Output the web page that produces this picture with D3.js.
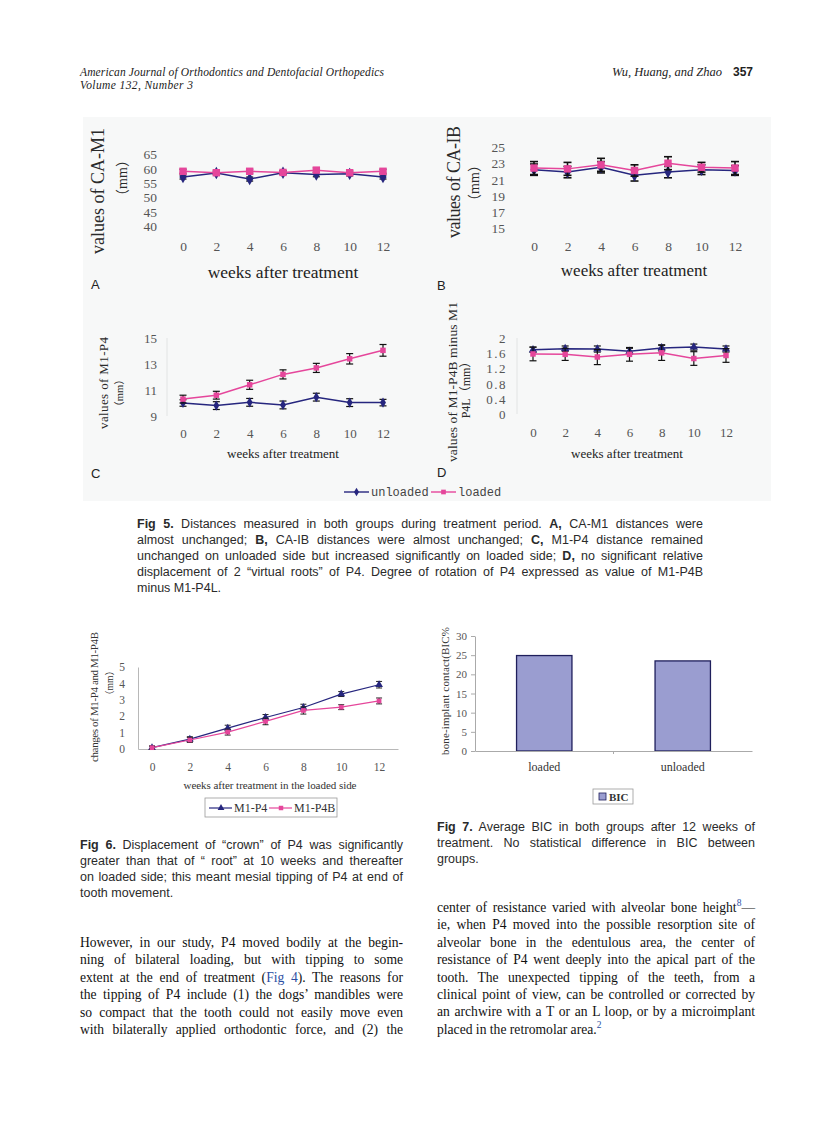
<!DOCTYPE html>
<html><head><meta charset="utf-8">
<script src="https://cdn.jsdelivr.net/npm/d3@7"></script>
<style>body{margin:0;background:#fff} svg{display:block}</style>
</head><body>
<svg id="page" width="838" height="1122"></svg>
<script>
// ---------------- DATA ----------------
const weeks = [0, 2, 4, 6, 8, 10, 12];
// Fig 5A  CA-M1 (mm)
const caM1Ticks = [40, 45, 50, 55, 60, 65];
const caM1Unloaded = [57.0, 58.4, 56.3, 58.5, 57.9, 58.1, 57.0];
const caM1Loaded   = [59.0, 58.5, 59.0, 58.6, 59.4, 58.5, 59.0];
const caM1ErrU = [0.7, 0.6, 0.7, 0.6, 0.8, 0.7, 0.7];
const caM1ErrL = [0.7, 0.6, 0.7, 0.6, 0.8, 0.7, 0.7];
// Fig 5B  CA-IB (mm)
const caIBTicks = [15, 17, 19, 21, 23, 25];
const caIBUnloaded = [22.2, 21.9, 22.5, 21.5, 21.9, 22.2, 22.1];
const caIBLoaded   = [22.4, 22.3, 22.8, 22.1, 23.0, 22.5, 22.4];
const caIBErrU = [0.7, 0.7, 0.7, 0.7, 0.7, 0.6, 0.6];
const caIBErrL = [0.8, 0.8, 0.8, 0.7, 0.8, 0.6, 0.8];
// Fig 5C  M1-P4 (mm)
const m1p4Ticks = [9, 11, 13, 15];
const m1p4Unloaded = [10.0, 9.8, 10.05, 9.85, 10.45, 10.03, 10.03];
const m1p4Loaded   = [10.3, 10.6, 11.4, 12.2, 12.7, 13.4, 14.05];
const m1p4ErrU = [0.25, 0.3, 0.3, 0.3, 0.3, 0.3, 0.25];
const m1p4ErrL = [0.3, 0.3, 0.35, 0.35, 0.35, 0.4, 0.45];
// Fig 5D  M1-P4B minus M1-P4L (mm)
const rotTicks = [0, 0.4, 0.8, 1.2, 1.6, 2];
const rotUnloaded = [1.69, 1.72, 1.71, 1.65, 1.74, 1.76, 1.71];
const rotLoaded   = [1.58, 1.57, 1.50, 1.57, 1.61, 1.46, 1.54];
const rotErrU = [0.07, 0.07, 0.08, 0.08, 0.08, 0.08, 0.08];
const rotErrL = [0.18, 0.16, 0.2, 0.18, 0.2, 0.18, 0.18];
// Fig 6  changes of M1-P4 and M1-P4B (mm)
const fig6Ticks = [0, 1, 2, 3, 4, 5];
const chgM1P4  = [0.08, 0.6, 1.27, 1.92, 2.53, 3.35, 3.92];
const chgM1P4B = [0.08, 0.55, 1.03, 1.68, 2.35, 2.55, 2.93];
const chgErrA = [0.1, 0.15, 0.18, 0.18, 0.2, 0.15, 0.2];
const chgErrB = [0.1, 0.15, 0.18, 0.2, 0.22, 0.15, 0.18];
// Fig 7  BIC %
const bicGroups = ["loaded", "unloaded"];
const bicValues = [24.9, 23.5];
const bicTicks = [0, 5, 10, 15, 20, 25, 30];

// ---------------- STYLE ----------------
const SERIF = "'Liberation Serif','Times New Roman',serif";
const SANS = "'Liberation Sans',Arial,sans-serif";
const CJKS = "'Liberation Serif','Noto Sans CJK SC',serif";
const MONO = "'Liberation Mono','Courier New',monospace";
const NAVY = "#26267e", PINK = "#e5469b";

const svg = d3.select("#page");
svg.append("rect").attr("width", 838).attr("height", 1122).attr("fill", "#fff");

function txt(x, y, s, o) {
  o = o || {};
  const t = svg.append("text").attr("x", x).attr("y", y).text(s)
    .attr("font-family", o.font || SERIF).attr("font-size", o.size || 12)
    .attr("fill", o.color || "#222");
  if (o.anchor) t.attr("text-anchor", o.anchor);
  if (o.italic) t.attr("font-style", "italic");
  if (o.bold) t.attr("font-weight", "bold");
  if (o.len) t.attr("textLength", o.len).attr("lengthAdjust", "spacing");
  return t;
}
function vtxt(cx, cy, s, o) {
  o = o || {};
  const t = svg.append("text").attr("transform", `translate(${cx},${cy}) rotate(-90)`)
    .attr("text-anchor", "middle").attr("dy", "0.35em").text(s)
    .attr("font-family", o.font || SERIF).attr("font-size", o.size || 12)
    .attr("fill", o.color || "#222");
  if (o.len) t.attr("textLength", o.len).attr("lengthAdjust", "spacing");
  return t;
}
function jline(x, y, width, parts, o) {
  const t = svg.append("text").attr("x", x).attr("y", y)
    .attr("font-family", o.font).attr("font-size", o.size).attr("fill", o.color);
  let full = "";
  parts.forEach(p => {
    const ts = t.append("tspan").text(p.t);
    full += p.t;
    if (p.b) ts.attr("font-weight", "bold");
    if (p.c) ts.attr("fill", p.c);
    if (p.sup) ts.attr("font-size", o.size * 0.7).attr("dy", -o.size * 0.42);
    if (p.dy) ts.attr("dy", p.dy);
  });
  if (o.justify) {
    const len = t.node().getComputedTextLength();
    const n = (full.match(/ /g) || []).length;
    if (n > 0) t.attr("word-spacing", ((width - len) / n).toFixed(3));
  }
  return t;
}

// ---------------- HEADER ----------------
txt(80, 76, "American Journal of Orthodontics and Dentofacial Orthopedics", {italic: 1, size: 11.5, len: 304, color: "#222"});
txt(80, 89, "Volume 132, Number 3", {italic: 1, size: 11.5, len: 113, color: "#222"});
txt(722, 76, "Wu, Huang, and Zhao", {italic: 1, size: 12.5, anchor: "end", color: "#222"});
txt(733, 76, "357", {font: SANS, bold: 1, size: 12, color: "#222"});

// ---------------- FIG 5 ----------------
svg.append("rect").attr("x", 83).attr("y", 117).attr("width", 688).attr("height", 384).attr("fill", "#f7f8f8");

function panel(cfg) {
  const g = svg.append("g");
  const x = d3.scaleLinear().domain([0, 12]).range(cfg.xr);
  const y = d3.scaleLinear().domain(cfg.yd).range(cfg.yr);
  if (cfg.axisLine) {
    g.append("line").attr("x1", cfg.axisLine).attr("x2", cfg.axisLine)
      .attr("y1", cfg.yr[1]).attr("y2", cfg.yr[0]).attr("stroke", "#e2e4e4");
  }
  const ya = g.append("g").attr("transform", `translate(${cfg.tickX},0)`)
    .call(d3.axisLeft(y).tickValues(cfg.ticks).tickSize(0).tickPadding(0).tickFormat(cfg.fmt || d3.format("d")));
  ya.select(".domain").remove();
  ya.selectAll("text").attr("font-family", SERIF).attr("font-size", cfg.tickFs)
    .attr("fill", "#555").attr("dy", "0.35em").attr("letter-spacing", cfg.ls || 0);
  const xa = g.append("g").attr("transform", `translate(0,${cfg.xLabelY})`)
    .call(d3.axisBottom(x).tickValues(weeks).tickSize(0).tickPadding(0));
  xa.select(".domain").remove();
  xa.selectAll("text").attr("y", 0).attr("dy", 0).attr("font-family", SERIF)
    .attr("font-size", cfg.tickFs).attr("fill", "#555");
  const line = d3.line().x(d => x(d.w)).y(d => y(d.v));
  const data = cfg.series.map(s => ({s, pts: weeks.map((w, i) => ({w, v: s.vals[i], e: s.err[i]}))}));
  data.forEach(({s, pts}) => {
    g.append("path").datum(pts).attr("d", line).attr("fill", "none")
      .attr("stroke", s.color).attr("stroke-width", s.lw || 1.5);
    const eb = g.append("g").attr("stroke", "#111").attr("stroke-width", cfg.ebw || 1.2);
    pts.forEach(d => {
      const y1 = y(d.v - d.e), y2 = y(d.v + d.e), cx = x(d.w), c = cfg.cap || 3.5;
      eb.append("line").attr("x1", cx).attr("x2", cx).attr("y1", y1).attr("y2", y2);
      eb.append("line").attr("x1", cx - c).attr("x2", cx + c).attr("y1", y1).attr("y2", y1);
      eb.append("line").attr("x1", cx - c).attr("x2", cx + c).attr("y1", y2).attr("y2", y2);
    });
    g.append("g").selectAll("path").data(pts).join("path")
      .attr("d", d3.symbol().type(s.sym).size(s.size))
      .attr("transform", d => `translate(${x(d.w)},${y(d.v)})`)
      .attr("fill", s.color);
  });
}

// A
panel({xr: [183, 383], yd: [40, 65], yr: [226, 154], ticks: caM1Ticks, tickX: 157, tickFs: 13.5, xLabelY: 251,
  cap: 3.5, series: [
    {vals: caM1Unloaded, err: caM1ErrU, color: NAVY, sym: d3.symbolDiamond, size: 45},
    {vals: caM1Loaded, err: caM1ErrL, color: PINK, sym: d3.symbolSquare, size: 55}]});
vtxt(98, 191, "values of CA-M1", {size: 18, len: 126, color: "#2a2a2a"});
vtxt(122, 178, "（mm）", {size: 14, font: CJKS, color: "#2a2a2a"});
txt(283, 278, "weeks after treatment", {size: 17.5, anchor: "middle", color: "#222"});
txt(91, 289, "A", {font: SANS, size: 13, color: "#222"});

// B
panel({xr: [534, 735], yd: [15, 25], yr: [228, 147], ticks: caIBTicks, tickX: 505, tickFs: 13.5, xLabelY: 251,
  cap: 4, ebw: 1.6, series: [
    {vals: caIBUnloaded, err: caIBErrU, color: NAVY, sym: d3.symbolDiamond, size: 45},
    {vals: caIBLoaded, err: caIBErrL, color: PINK, sym: d3.symbolSquare, size: 55}]});
vtxt(454, 182, "values of CA-IB", {size: 18, len: 112, color: "#2a2a2a"});
vtxt(474, 183, "（mm）", {size: 14, font: CJKS, color: "#2a2a2a"});
txt(634, 276, "weeks after treatment", {size: 17, anchor: "middle", color: "#222"});
txt(437, 290, "B", {font: SANS, size: 13, color: "#222"});

// C
panel({xr: [183, 383], yd: [9, 15], yr: [416, 338], ticks: m1p4Ticks, tickX: 157, tickFs: 13, xLabelY: 438,
  axisLine: 167, cap: 3.5, series: [
    {vals: m1p4Unloaded, err: m1p4ErrU, color: NAVY, sym: d3.symbolDiamond, size: 30},
    {vals: m1p4Loaded, err: m1p4ErrL, color: PINK, sym: d3.symbolSquare, size: 30}]});
vtxt(103, 383, "values of M1-P4", {size: 13, len: 92, color: "#2a2a2a"});
vtxt(119, 393, "（mm）", {size: 10.5, font: CJKS, color: "#2a2a2a"});
txt(283, 458, "weeks after treatment", {size: 13, anchor: "middle", color: "#222"});
txt(91, 478, "C", {font: SANS, size: 13, color: "#222"});

// D
panel({xr: [533, 726], yd: [0, 2], yr: [414, 338], ticks: rotTicks, tickX: 507, tickFs: 13, xLabelY: 437,
  axisLine: 517, ls: 1.5, fmt: d => String(d), cap: 3.5, series: [
    {vals: rotUnloaded, err: rotErrU, color: NAVY, sym: d3.symbolTriangle, size: 30},
    {vals: rotLoaded, err: rotErrL, color: PINK, sym: d3.symbolSquare, size: 30}]});
vtxt(452, 382, "values of M1-P4B minus M1", {size: 13.5, len: 160, color: "#2a2a2a"});
vtxt(466, 387, "P4L（mm）", {size: 12, font: CJKS, color: "#2a2a2a"});
txt(627, 458, "weeks after treatment", {size: 13, anchor: "middle", color: "#222"});
txt(437, 477, "D", {font: SANS, size: 13, color: "#222"});

// Fig 5 legend
(function () {
  const g = svg.append("g");
  const items = [{name: "unloaded", color: NAVY, sym: d3.symbolDiamond, x0: 344},
                 {name: "loaded", color: PINK, sym: d3.symbolSquare, x0: 431}];
  items.forEach(it => {
    g.append("line").attr("x1", it.x0).attr("x2", it.x0 + 25).attr("y1", 492).attr("y2", 492)
      .attr("stroke", it.color).attr("stroke-width", 1.4);
    g.append("path").attr("d", d3.symbol().type(it.sym).size(22)())
      .attr("transform", `translate(${it.x0 + 12.5},492)`).attr("fill", it.color);
    g.append("text").attr("x", it.x0 + 27).attr("y", 496).text(it.name)
      .attr("font-family", MONO).attr("font-size", 12).attr("fill", "#444");
  });
})();

// Fig 5 caption
const capStyle = {font: SANS, size: 12.5, color: "#2a2a2a", justify: true};
jline(137, 528, 566, [{t: "Fig 5.", b: 1}, {t: " Distances measured in both groups during treatment period. "}, {t: "A,", b: 1}, {t: " CA-M1 distances were"}], capStyle);
jline(137, 544, 566, [{t: "almost unchanged; "}, {t: "B,", b: 1}, {t: " CA-IB distances were almost unchanged; "}, {t: "C,", b: 1}, {t: " M1-P4 distance remained"}], capStyle);
jline(137, 560, 566, [{t: "unchanged on unloaded side but increased significantly on loaded side; "}, {t: "D,", b: 1}, {t: " no significant relative"}], capStyle);
jline(137, 576, 566, [{t: "displacement of 2 “virtual roots” of P4. Degree of rotation of P4 expressed as value of M1-P4B"}], capStyle);
jline(137, 592, 566, [{t: "minus M1-P4L."}], Object.assign({}, capStyle, {justify: false}));

// ---------------- FIG 6 ----------------
(function () {
  const g = svg.append("g");
  const x = d3.scaleLinear().domain([-0.74, 13]).range([138, 398]);
  const y = d3.scaleLinear().domain([0, 5]).range([749, 667]);
  const ya = g.append("g").attr("transform", "translate(138,0)")
    .call(d3.axisLeft(y).tickValues(fig6Ticks).tickFormat(d3.format("d")).tickSize(0).tickSizeOuter(0).tickPadding(13));
  ya.select(".domain").attr("stroke", "#b8b8b8");
  ya.selectAll("text").attr("font-family", SERIF).attr("font-size", 11.5).attr("fill", "#555");
  const xa = g.append("g").attr("transform", "translate(0,749)")
    .call(d3.axisBottom(x).tickValues(weeks).tickFormat(d3.format("d")).tickSize(0).tickSizeOuter(0));
  xa.select(".domain").attr("stroke", "#b8b8b8");
  xa.selectAll("text").attr("y", 22).attr("dy", 0).attr("font-family", SERIF).attr("font-size", 11.5).attr("fill", "#555");
  const series = [
    {vals: chgM1P4, err: chgErrA, color: NAVY, sym: d3.symbolTriangle, size: 26},
    {vals: chgM1P4B, err: chgErrB, color: PINK, sym: d3.symbolSquare, size: 22}];
  const line = d3.line().x(d => x(d.w)).y(d => y(d.v));
  series.forEach(s => {
    const pts = weeks.map((w, i) => ({w, v: s.vals[i], e: s.err[i]}));
    g.append("path").datum(pts).attr("d", line).attr("fill", "none").attr("stroke", s.color).attr("stroke-width", 1.2);
    const eb = g.append("g").attr("stroke", "#222").attr("stroke-width", 1);
    pts.forEach(d => {
      const cx = x(d.w), y1 = y(d.v - d.e), y2 = y(d.v + d.e);
      eb.append("line").attr("x1", cx).attr("x2", cx).attr("y1", y1).attr("y2", y2);
      eb.append("line").attr("x1", cx - 3).attr("x2", cx + 3).attr("y1", y1).attr("y2", y1);
      eb.append("line").attr("x1", cx - 3).attr("x2", cx + 3).attr("y1", y2).attr("y2", y2);
    });
    g.append("g").selectAll("path").data(pts).join("path")
      .attr("d", d3.symbol().type(s.sym).size(s.size))
      .attr("transform", d => `translate(${x(d.w)},${y(d.v)})`).attr("fill", s.color);
  });
  // legend
  g.append("rect").attr("x", 205).attr("y", 798).attr("width", 132).attr("height", 19)
    .attr("fill", "#fff").attr("stroke", "#999").attr("stroke-width", 0.8);
  const leg = [{name: "M1-P4", color: NAVY, sym: d3.symbolTriangle, x0: 209},
               {name: "M1-P4B", color: PINK, sym: d3.symbolSquare, x0: 269}];
  leg.forEach(it => {
    g.append("line").attr("x1", it.x0).attr("x2", it.x0 + 23).attr("y1", 808).attr("y2", 808)
      .attr("stroke", it.color).attr("stroke-width", 1.2);
    g.append("path").attr("d", d3.symbol().type(it.sym).size(20)()).attr("transform", `translate(${it.x0 + 12},808)`).attr("fill", it.color);
    g.append("text").attr("x", it.x0 + 25).attr("y", 812).text(it.name)
      .attr("font-family", SERIF).attr("font-size", 12).attr("fill", "#333");
  });
})();
vtxt(94, 697, "changes of M1-P4 and M1-P4B", {size: 11, len: 130, color: "#333"});
vtxt(110, 683, "（mm）", {size: 9.5, font: CJKS, color: "#333"});
txt(270, 789, "weeks after treatment in the loaded side", {size: 11, anchor: "middle", len: 173, color: "#333"});

// Fig 6 caption
const cap6 = {font: SANS, size: 12.5, color: "#2a2a2a", justify: true};
jline(80, 849, 323, [{t: "Fig 6.", b: 1}, {t: " Displacement of “crown” of P4 was significantly"}], cap6);
jline(80, 865, 323, [{t: "greater than that of “ root” at 10 weeks and thereafter"}], cap6);
jline(80, 881, 323, [{t: "on loaded side; this meant mesial tipping of P4 at end of"}], cap6);
jline(80, 897, 323, [{t: "tooth movement."}], Object.assign({}, cap6, {justify: false}));

// ---------------- FIG 7 ----------------
(function () {
  const g = svg.append("g");
  const x = d3.scaleBand().domain(bicGroups).range([475, 752]).paddingInner(0.6).paddingOuter(0.3);
  const y = d3.scaleLinear().domain([0, 30]).range([751, 636]);
  const ya = g.append("g").attr("transform", "translate(475,0)")
    .call(d3.axisLeft(y).tickValues(bicTicks).tickSize(4).tickSizeOuter(0).tickPadding(4));
  ya.selectAll("line,.domain").attr("stroke", "#aaa");
  ya.selectAll("text").attr("font-family", SERIF).attr("font-size", 11).attr("fill", "#555");
  g.selectAll("rect.bar").data(bicValues).join("rect").attr("class", "bar")
    .attr("x", (d, i) => x(bicGroups[i])).attr("width", x.bandwidth())
    .attr("y", d => y(d)).attr("height", d => y(0) - y(d))
    .attr("fill", "#9a9dd0").attr("stroke", "#1f1f5c").attr("stroke-width", 1.3);
  const xa = g.append("g").attr("transform", "translate(0,751)")
    .call(d3.axisBottom(x).tickSize(0).tickSizeOuter(0));
  xa.select(".domain").attr("stroke", "#aaa");
  xa.selectAll("text").attr("y", 20).attr("dy", 0).attr("font-family", SERIF).attr("font-size", 12).attr("fill", "#333");
  const mid = (x("loaded") + x.bandwidth() + x("unloaded")) / 2;
  g.append("line").attr("x1", mid).attr("x2", mid).attr("y1", 751).attr("y2", 754).attr("stroke", "#aaa");
  // legend
  g.append("rect").attr("x", 593).attr("y", 789).attr("width", 40).attr("height", 15)
    .attr("fill", "#fff").attr("stroke", "#999").attr("stroke-width", 0.8);
  g.append("rect").attr("x", 599).attr("y", 793).attr("width", 7).attr("height", 7)
    .attr("fill", "#9a9dd0").attr("stroke", "#1f1f5c").attr("stroke-width", 0.8);
  g.append("text").attr("x", 609).attr("y", 801).text("BIC")
    .attr("font-family", SERIF).attr("font-size", 11).attr("font-weight", "bold").attr("fill", "#333");
})();
vtxt(445, 691, "bone-implant contact(BIC%", {size: 11, len: 128, color: "#333"});

// Fig 7 caption
const cap7 = {font: SANS, size: 12.5, color: "#2a2a2a", justify: true};
jline(437, 831, 318, [{t: "Fig 7.", b: 1}, {t: " Average BIC in both groups after 12 weeks of"}], cap7);
jline(437, 847, 318, [{t: "treatment. No statistical difference in BIC between"}], cap7);
jline(437, 863, 318, [{t: "groups."}], Object.assign({}, cap7, {justify: false}));

// ---------------- BODY TEXT ----------------
const LINK = "#2b4fa3";
const body = {font: SERIF, size: 13.6, color: "#111", justify: true};
const bodyEnd = Object.assign({}, body, {justify: false});
const lb = [947, 964.4, 981.8, 999.2, 1016.6, 1034];
jline(80, lb[0], 323, [{t: "However, in our study, P4 moved bodily at the begin-"}], body);
jline(80, lb[1], 323, [{t: "ning of bilateral loading, but with tipping to some"}], body);
jline(80, lb[2], 323, [{t: "extent at the end of treatment ("}, {t: "Fig 4", c: LINK}, {t: "). The reasons for"}], body);
jline(80, lb[3], 323, [{t: "the tipping of P4 include (1) the dogs’ mandibles were"}], body);
jline(80, lb[4], 323, [{t: "so compact that the tooth could not easily move even"}], body);
jline(80, lb[5], 323, [{t: "with bilaterally applied orthodontic force, and (2) the"}], body);

const rb = [912, 929.4, 946.8, 964.2, 981.6, 999, 1016.4, 1034];
jline(437, rb[0], 318, [{t: "center of resistance varied with alveolar bone height"}, {t: "8", sup: 1, c: LINK}, {t: "—", dy: 13.6 * 0.42}], body);
jline(437, rb[1], 318, [{t: "ie, when P4 moved into the possible resorption site of"}], body);
jline(437, rb[2], 318, [{t: "alveolar bone in the edentulous area, the center of"}], body);
jline(437, rb[3], 318, [{t: "resistance of P4 went deeply into the apical part of the"}], body);
jline(437, rb[4], 318, [{t: "tooth. The unexpected tipping of the teeth, from a"}], body);
jline(437, rb[5], 318, [{t: "clinical point of view, can be controlled or corrected by"}], body);
jline(437, rb[6], 318, [{t: "an archwire with a T or an L loop, or by a microimplant"}], body);
jline(437, rb[7], 318, [{t: "placed in the retromolar area."}, {t: "2", sup: 1, c: LINK}], bodyEnd);
</script>
</body></html>
